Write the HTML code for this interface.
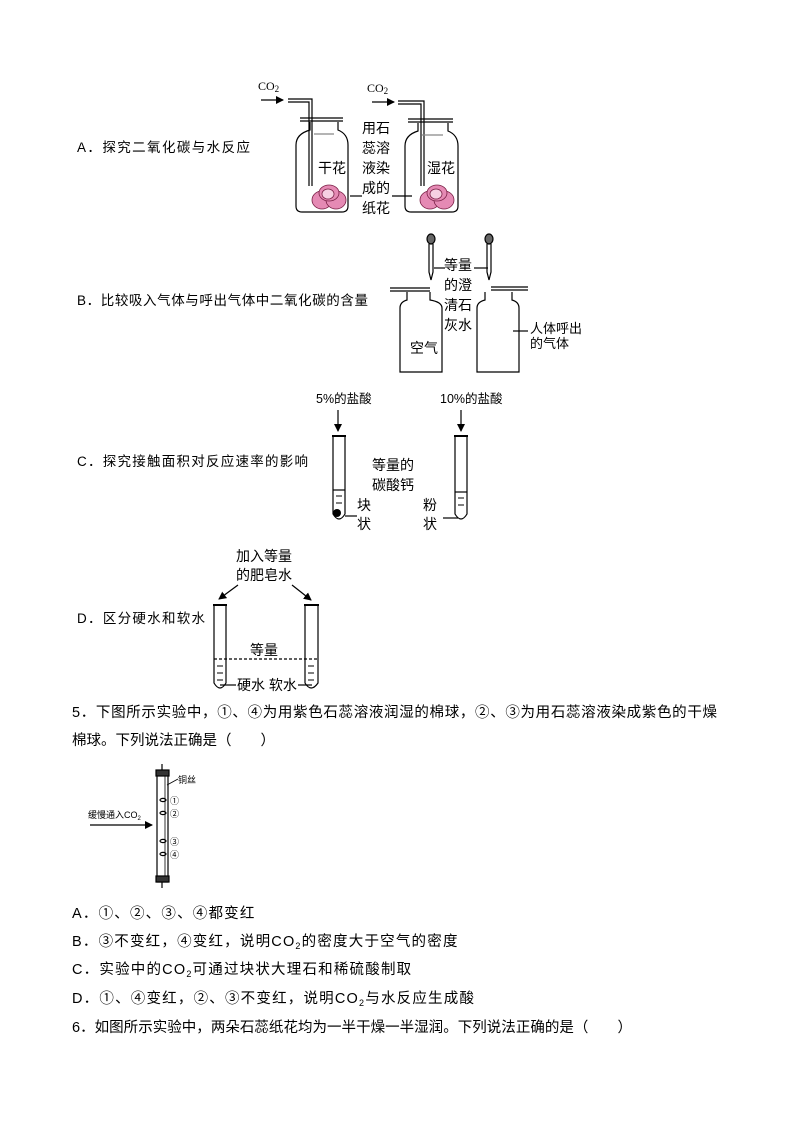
<!DOCTYPE html>
<html><head><meta charset="utf-8"><style>
html,body{margin:0;padding:0;background:#fff;}
svg{display:block;}
text{font-family:"Liberation Sans","Noto Sans CJK SC",sans-serif;fill:#000;}
.s{font-family:"Liberation Serif","Noto Serif CJK SC",serif;}
</style></head><body>
<svg width="794" height="1123" viewBox="0 0 794 1123" xmlns="http://www.w3.org/2000/svg">
<defs>
<marker id="ar" markerWidth="8" markerHeight="8" refX="7" refY="4" orient="auto" markerUnits="userSpaceOnUse"><path d="M0,0 L8,4 L0,8 Z" fill="#000"/></marker>
</defs>
<g font-size="13.5">
<text x="77" y="152" textLength="173" lengthAdjust="spacing">A．探究二氧化碳与水反应</text>
<text x="77" y="305" textLength="291" lengthAdjust="spacing">B．比较吸入气体与呼出气体中二氧化碳的含量</text>
<text x="77" y="466" textLength="231" lengthAdjust="spacing">C．探究接触面积对反应速率的影响</text>
<text x="77" y="623" textLength="128" lengthAdjust="spacing">D．区分硬水和软水</text>
</g>
<!-- Fig A -->
<g stroke="#000" fill="none" stroke-width="1.2">
<text class="s" x="258" y="90" font-size="12" stroke="none">CO<tspan font-size="9" dy="2">2</tspan></text>
<text class="s" x="367" y="92" font-size="12" stroke="none">CO<tspan font-size="9" dy="2">2</tspan></text>
<line x1="261" y1="100" x2="283" y2="100" marker-end="url(#ar)"/>
<line x1="372" y1="102" x2="394" y2="102" marker-end="url(#ar)"/>
<path d="M288,99 H312 V186 M288,102 H309 V186"/>
<path d="M398,101 H424 V186 M398,104 H421 V186"/>
<path d="M300,118 H343 M300,121 H343"/>
<path d="M408,119 H453 M408,122 H453"/>
<path d="M310,122 V130 Q296,134 296,145 V206 Q296,212 302,212 H342 Q348,212 348,206 V145 Q348,134 338,130 V122"/>
<path d="M418,123 V131 Q405,135 405,146 V206 Q405,212 411,212 H452 Q458,212 458,206 V146 Q458,135 448,131 V123"/>
<line x1="314" y1="134" x2="334" y2="134" stroke="#888"/>
<line x1="422" y1="135" x2="443" y2="135" stroke="#888"/>
<line x1="350" y1="196" x2="362" y2="196"/>
<line x1="392" y1="196" x2="412" y2="196"/>
</g>
<g fill="#e58ab4" stroke="#7a2046" stroke-width="0.8">
<ellipse cx="322" cy="200" rx="10" ry="9"/><ellipse cx="336" cy="200" rx="10" ry="9"/>
<ellipse cx="329" cy="193" rx="10" ry="8"/>
<ellipse cx="328" cy="194" rx="6" ry="5" fill="#f6d0e2"/>
<ellipse cx="430" cy="200" rx="10" ry="9"/><ellipse cx="444" cy="200" rx="10" ry="9"/>
<ellipse cx="437" cy="193" rx="10" ry="8"/>
<ellipse cx="436" cy="194" rx="6" ry="5" fill="#f6d0e2"/>
</g>
<g font-size="14">
<text x="318" y="173">干花</text><text x="427" y="173">湿花</text>
<text x="362" y="133">用石</text><text x="362" y="153">蕊溶</text><text x="362" y="173">液染</text><text x="362" y="193">成的</text><text x="362" y="213">纸花</text>
</g>
<!-- Fig B -->
<g stroke="#000" fill="none" stroke-width="1.2">
<ellipse cx="431" cy="239" rx="4" ry="5" fill="#666"/>
<ellipse cx="489" cy="239" rx="4" ry="5" fill="#666"/>
<path d="M429,244 V272 L431,280 L433,272 V244"/>
<path d="M487,244 V272 L489,280 L491,272 V244"/>
<path d="M390,288 H430 M390,291 H430"/>
<path d="M491,287 H528 M491,290 H528"/>
<path d="M407,292 V300 Q400,302 400,308 V372 H442 V308 Q442,302 430,300 V292"/>
<path d="M485,292 V300 Q477,302 477,308 V372 H519 V308 Q519,302 512,300 V292"/>
<line x1="434" y1="268" x2="445" y2="268"/>
<line x1="474" y1="268" x2="488" y2="268"/>
<line x1="513" y1="331" x2="528" y2="331"/>
</g>
<g font-size="14">
<text x="444" y="270">等量</text><text x="444" y="290">的澄</text><text x="444" y="310">清石</text><text x="444" y="330">灰水</text>
<text x="410" y="353">空气</text>
<text x="530" y="333" font-size="13">人体呼出</text><text x="530" y="348" font-size="13">的气体</text>
</g>
<!-- Fig C -->
<g font-size="12.5">
<text x="316" y="403">5%的盐酸</text><text x="440" y="403">10%的盐酸</text>
</g>
<g stroke="#000" fill="none" stroke-width="1.2">
<line x1="338" y1="410" x2="338" y2="431" marker-end="url(#ar)"/>
<line x1="461" y1="410" x2="461" y2="431" marker-end="url(#ar)"/>
<path d="M333,436 V514 Q339,524 345,514 V436"/><line x1="332" y1="436" x2="346" y2="436" stroke-width="2"/>
<path d="M455,436 V514 Q461,524 467,514 V436"/><line x1="454" y1="436" x2="468" y2="436" stroke-width="2"/>
<line x1="333" y1="490" x2="345" y2="490"/><line x1="455" y1="492" x2="467" y2="492"/>
<path d="M336,496 h6 M336,503 h6 M458,498 h6 M458,505 h6" stroke-width="1"/>
<line x1="345" y1="516" x2="357" y2="516"/>
<line x1="443" y1="518" x2="458" y2="518"/>
</g>
<circle cx="337" cy="513" r="4" fill="#000"/>
<g font-size="14">
<text x="372" y="470">等量的</text><text x="372" y="490">碳酸钙</text>
<text x="357" y="510">块</text><text x="357" y="529">状</text>
<text x="423" y="510">粉</text><text x="423" y="529">状</text>
</g>
<!-- Fig D -->
<g font-size="14">
<text x="236" y="561">加入等量</text><text x="236" y="580">的肥皂水</text>
<text x="250" y="655">等量</text><text x="237" y="690">硬水 软水</text>
</g>
<g stroke="#000" fill="none" stroke-width="1.2">
<line x1="238" y1="585" x2="219" y2="599" marker-end="url(#ar)"/>
<line x1="292" y1="585" x2="311" y2="600" marker-end="url(#ar)"/>
<path d="M214,605 V683 Q220,693 226,683 V605"/><line x1="213" y1="605" x2="227" y2="605" stroke-width="2"/>
<path d="M305,605 V683 Q311,693 318,683 V605"/><line x1="304" y1="605" x2="319" y2="605" stroke-width="2"/>
<line x1="214" y1="659" x2="318" y2="659" stroke-dasharray="3,2"/>
<path d="M217,666 h6 M217,673 h6 M217,680 h6 M308,666 h6 M308,673 h6 M308,680 h6" stroke-width="1"/>
<line x1="220" y1="685" x2="236" y2="685"/>
<line x1="298" y1="685" x2="312" y2="685"/>
</g>
<!-- Q5 -->
<g font-size="14.5">
<text x="72" y="717" textLength="645" lengthAdjust="spacing">5．下图所示实验中，①、④为用紫色石蕊溶液润湿的棉球，②、③为用石蕊溶液染成紫色的干燥</text>
<text x="72" y="745">棉球。下列说法正确是（　　）</text>
</g>
<!-- Fig 5 -->
<g stroke="#000" fill="none" stroke-width="1.2">
<rect x="157" y="772" width="11" height="110"/>
<rect x="156" y="770" width="13" height="6" fill="#333"/>
<rect x="156" y="876" width="13" height="6" fill="#333"/>
<line x1="162" y1="764" x2="162" y2="770"/><line x1="162" y1="882" x2="162" y2="888"/>
<line x1="165" y1="776" x2="165" y2="876" stroke-width="0.8"/>
<line x1="167" y1="785" x2="178" y2="779" stroke-width="0.8"/>
<ellipse cx="163" cy="800" rx="3" ry="1.6"/><ellipse cx="163" cy="813" rx="3" ry="1.6"/>
<ellipse cx="163" cy="841" rx="3" ry="1.6"/><ellipse cx="163" cy="854" rx="3" ry="1.6"/>
<line x1="90" y1="825" x2="152" y2="825" marker-end="url(#ar)"/>
</g>
<g font-size="9">
<text x="178" y="783">铜丝</text>
<text x="170" y="804">①</text><text x="170" y="817">②</text><text x="170" y="845">③</text><text x="170" y="858">④</text>
<text x="88" y="818">缓慢通入CO<tspan font-size="6" dy="2">2</tspan></text>
</g>
<!-- options -->
<g font-size="14.5" letter-spacing="1.2">
<text x="72" y="918">A．①、②、③、④都变红</text>
<text x="72" y="946">B．③不变红，④变红，说明CO<tspan font-size="9" dy="3">2</tspan><tspan dy="-3">的密度大于空气的密度</tspan></text>
<text x="72" y="974">C．实验中的CO<tspan font-size="9" dy="3">2</tspan><tspan dy="-3">可通过块状大理石和稀硫酸制取</tspan></text>
<text x="72" y="1003">D．①、④变红，②、③不变红，说明CO<tspan font-size="9" dy="3">2</tspan><tspan dy="-3">与水反应生成酸</tspan></text>
</g>
<text x="72" y="1032" font-size="14.5" textLength="560" lengthAdjust="spacing">6．如图所示实验中，两朵石蕊纸花均为一半干燥一半湿润。下列说法正确的是（　　）</text>
</svg>
</body></html>
